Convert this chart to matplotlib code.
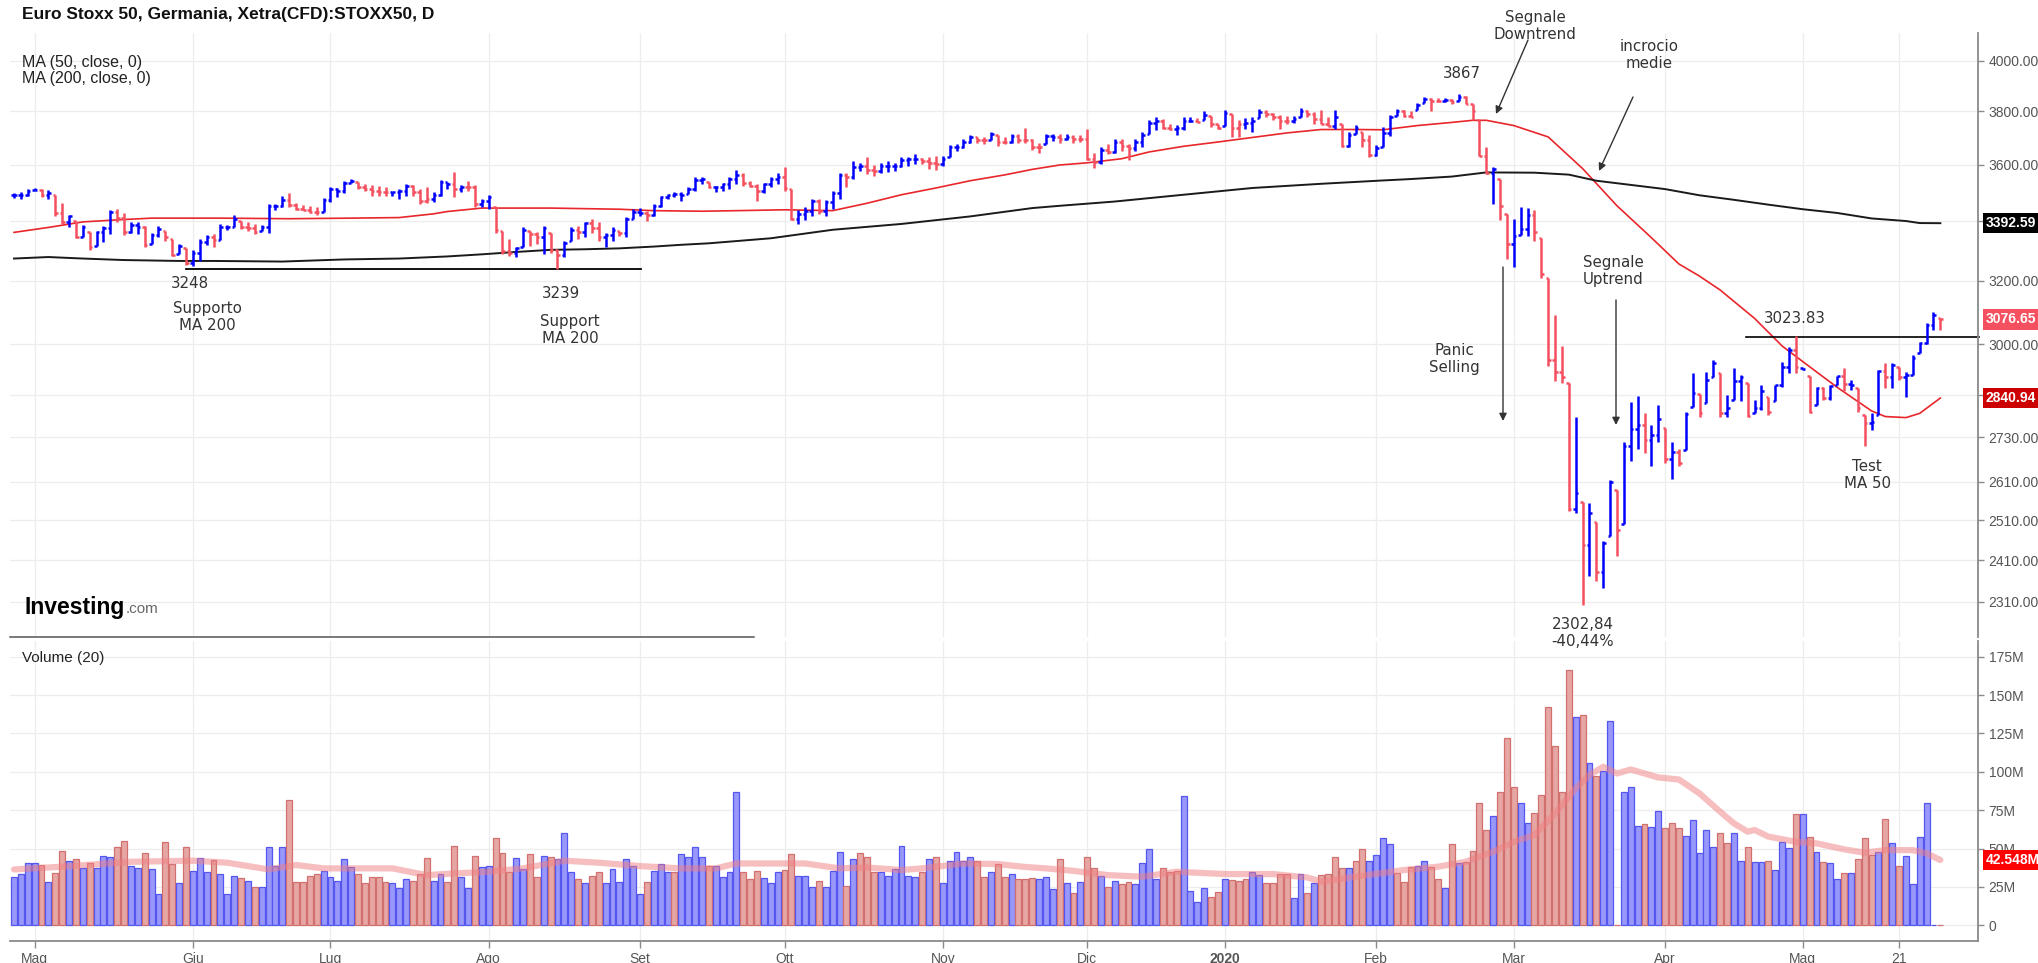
import numpy as np
import matplotlib
matplotlib.use("Agg")
import matplotlib.pyplot as plt
from matplotlib.collections import LineCollection
from matplotlib.ticker import FixedLocator, NullLocator

plt.rcParams['font.family'] = ['Liberation Sans', 'DejaVu Sans']

# daily bars, Apr 26 2019 .. late May 2020
highs = [3497, 3500, 3512, 3515, 3512, 3509, 3491, 3464, 3421, 3401,
         3386, 3363, 3366, 3383, 3439, 3441, 3427, 3395, 3398, 3383,
         3360, 3383, 3366, 3337, 3322, 3307, 3302, 3337, 3352, 3355,
         3390, 3386, 3421, 3401, 3398, 3390, 3386, 3460, 3460, 3486,
         3497, 3462, 3456, 3453, 3448, 3480, 3521, 3515, 3542, 3548,
         3539, 3531, 3527, 3524, 3519, 3503, 3512, 3531, 3527, 3512,
         3519, 3500, 3545, 3539, 3575, 3527, 3542, 3527, 3476, 3491,
         3450, 3366, 3337, 3313, 3378, 3366, 3363, 3383, 3360, 3304,
         3333, 3378, 3383, 3398, 3406, 3395, 3360, 3378, 3366, 3415,
         3441, 3445, 3436, 3460, 3488, 3495, 3500, 3500, 3519, 3555,
         3557, 3539, 3524, 3535, 3555, 3581, 3569, 3542, 3531, 3535,
         3555, 3571, 3591, 3512, 3437, 3448, 3476, 3476, 3474, 3507,
         3571, 3571, 3612, 3608, 3628, 3599, 3608, 3612, 3608, 3628,
         3628, 3640, 3624, 3628, 3632, 3632, 3673, 3677, 3694, 3710,
         3703, 3703, 3722, 3710, 3701, 3714, 3714, 3736, 3694, 3682,
         3714, 3714, 3714, 3714, 3710, 3710, 3732, 3642, 3664, 3677,
         3694, 3694, 3677, 3694, 3722, 3768, 3780, 3771, 3753, 3749,
         3780, 3778, 3775, 3801, 3783, 3753, 3804, 3791, 3766, 3775,
         3780, 3810, 3804, 3795, 3787, 3783, 3783, 3813, 3804, 3797,
         3804, 3778, 3804, 3753, 3720, 3749, 3720, 3710, 3673, 3739,
         3787, 3810, 3806, 3800, 3831, 3857, 3852, 3852, 3852, 3847,
         3867, 3862, 3828, 3768, 3667, 3592, 3549, 3425, 3408, 3449,
         3445, 3437, 3343, 3209, 3091, 2994, 2884, 2788, 2557, 2554,
         2505, 2456, 2615, 2587, 2717, 2829, 2848, 2799, 2763, 2822,
         2757, 2717, 2698, 2802, 2914, 2852, 2918, 2953, 2914, 2851,
         2928, 2907, 2885, 2835, 2879, 2845, 2879, 2948, 2993, 3024,
         2928, 2904, 2874, 2874, 2879, 2904, 2928, 2894, 2869, 2793,
         2797, 2923, 2943, 2943, 2933, 2918, 2968, 3008, 3065, 3100,
         3080]
lows = [3480, 3476, 3486, 3509, 3483, 3476, 3418, 3390, 3380, 3341,
        3344, 3302, 3316, 3329, 3355, 3395, 3352, 3360, 3355, 3313,
        3322, 3346, 3333, 3280, 3289, 3252, 3248, 3266, 3318, 3313,
        3335, 3369, 3378, 3371, 3366, 3355, 3366, 3360, 3439, 3450,
        3448, 3439, 3437, 3427, 3421, 3430, 3468, 3483, 3497, 3533,
        3512, 3507, 3486, 3488, 3488, 3486, 3476, 3488, 3488, 3460,
        3464, 3468, 3488, 3512, 3483, 3500, 3507, 3448, 3448, 3441,
        3360, 3289, 3282, 3278, 3311, 3315, 3322, 3289, 3293, 3239,
        3278, 3333, 3337, 3344, 3360, 3333, 3311, 3333, 3349, 3346,
        3406, 3418, 3401, 3418, 3448, 3476, 3483, 3471, 3495, 3507,
        3531, 3515, 3500, 3507, 3512, 3531, 3524, 3519, 3471, 3497,
        3521, 3531, 3507, 3402, 3390, 3402, 3418, 3424, 3418, 3441,
        3476, 3519, 3548, 3578, 3566, 3560, 3569, 3575, 3578, 3591,
        3596, 3603, 3603, 3584, 3581, 3596, 3628, 3652, 3660, 3682,
        3682, 3677, 3692, 3669, 3677, 3680, 3682, 3680, 3654, 3642,
        3677, 3689, 3682, 3692, 3682, 3685, 3618, 3587, 3603, 3640,
        3642, 3652, 3618, 3652, 3664, 3714, 3729, 3734, 3729, 3710,
        3729, 3758, 3758, 3766, 3741, 3732, 3745, 3701, 3703, 3732,
        3720, 3775, 3780, 3766, 3732, 3753, 3755, 3778, 3780, 3753,
        3753, 3743, 3732, 3664, 3664, 3714, 3664, 3628, 3632, 3664,
        3706, 3783, 3778, 3777, 3804, 3831, 3800, 3836, 3836, 3828,
        3841, 3828, 3768, 3632, 3567, 3459, 3405, 3272, 3245, 3353,
        3350, 3333, 3209, 2935, 2891, 2886, 2532, 2529, 2302.84, 2371,
        2360, 2342, 2469, 2421, 2500, 2666, 2699, 2688, 2651, 2718,
        2660, 2617, 2651, 2696, 2815, 2788, 2826, 2903, 2788, 2788,
        2835, 2831, 2788, 2797, 2807, 2793, 2831, 2874, 2914, 2914,
        2923, 2797, 2822, 2835, 2835, 2880, 2860, 2864, 2802, 2705,
        2750, 2793, 2869, 2869, 2894, 2845, 2907, 2973, 3000, 3044,
        3044]
closes = [3492, 3490, 3507, 3510, 3492, 3497, 3429, 3398, 3416, 3347,
          3381, 3313, 3361, 3375, 3433, 3410, 3361, 3387, 3380, 3319,
          3353, 3374, 3345, 3285, 3315, 3257, 3292, 3330, 3345, 3336,
          3381, 3381, 3408, 3381, 3376, 3363, 3380, 3451, 3454, 3474,
          3457, 3443, 3440, 3433, 3430, 3472, 3512, 3505, 3533, 3542,
          3520, 3512, 3507, 3500, 3500, 3500, 3505, 3522, 3502, 3471,
          3478, 3492, 3536, 3530, 3512, 3520, 3520, 3460, 3471, 3485,
          3368, 3297, 3290, 3307, 3370, 3357, 3345, 3375, 3302, 3285,
          3324, 3370, 3363, 3393, 3376, 3345, 3353, 3370, 3360, 3408,
          3433, 3428, 3420, 3454, 3485, 3490, 3495, 3492, 3512, 3545,
          3549, 3519, 3520, 3530, 3547, 3562, 3533, 3522, 3507, 3530,
          3547, 3557, 3517, 3406, 3426, 3436, 3471, 3436, 3467, 3497,
          3563, 3555, 3590, 3594, 3582, 3577, 3594, 3594, 3594, 3618,
          3620, 3620, 3612, 3607, 3602, 3622, 3664, 3664, 3685, 3701,
          3691, 3691, 3714, 3685, 3685, 3706, 3691, 3691, 3664, 3664,
          3706, 3703, 3697, 3703, 3694, 3694, 3622, 3610, 3653, 3647,
          3685, 3669, 3660, 3685, 3711, 3755, 3764, 3738, 3733, 3735,
          3764, 3764, 3759, 3787, 3751, 3736, 3793, 3738, 3751, 3757,
          3764, 3799, 3790, 3777, 3764, 3764, 3770, 3803, 3790, 3770,
          3753, 3743, 3777, 3668, 3711, 3738, 3691, 3636, 3660, 3718,
          3779, 3803, 3783, 3780, 3824, 3849, 3840, 3840, 3843, 3835,
          3857, 3830, 3800, 3633, 3571, 3586, 3452, 3322, 3350, 3372,
          3422, 3364, 3223, 2953, 2916, 2903, 2538, 2581, 2447, 2527,
          2380, 2452, 2609, 2484, 2706, 2752, 2764, 2723, 2735, 2782,
          2671, 2689, 2660, 2794, 2854, 2797, 2894, 2943, 2797, 2811,
          2891, 2903, 2790, 2811, 2862, 2800, 2879, 2933, 2983, 2933,
          2927, 2800, 2870, 2840, 2875, 2904, 2882, 2878, 2811, 2769,
          2773, 2919, 2903, 2939, 2903, 2908, 2959, 3003, 3060, 3091,
          3076.65]
# B = blue (up) bar, R = red (down) bar
price_dir = ("BBBBRBRRBR" "BRBBBRRBBR" "BBRRBRBBBR" "BBBRRRBBBB" "RRRRRBBBBB"
             "RRRRRBBBRR" "RBBBRBRRBB" "RRRBBRRBRR" "BBRBRRBBRB" "BBRBBBBBBB"
             "BRBBBBRRRB" "BBRRBBBRBB" "BRBBRRBBBB" "BBRRRBBBBB" "RRBRRBRRRR"
             "BBRBRRRRBR" "BRRBBBBRRB" "BBRBRRBRRB" "BBRRRRBBRR" "RRBRBBRRBB"
             "BBRRBBRRBR" "BRRRRBRRBB" "BRRRRRRBRB" "RBBRBBBRBB" "RBRBBRBBRB"
             "BBRBBRBBBR" "BRBRBBRBRR" "BBRBRBBBBB" "R")

# volume in millions
volumes = [31.7, 33.4, 40.3, 40.3, 39.3, 28.4, 33.8, 48.6, 42.1, 42.9,
           37.1, 40.3, 37.1, 45.3, 44.2, 50.8, 55.1, 38.6, 37.1, 46.9,
           36.4, 20.2, 54.0, 39.7, 27.3, 50.8, 35.5, 43.6, 34.5, 42.5,
           33.2, 20.2, 32.3, 30.6, 29.1, 24.7, 24.7, 50.8, 38.6, 50.8,
           81.6, 28.4, 28.4, 32.1, 33.2, 35.5, 31.2, 29.1, 42.9, 37.7,
           33.2, 27.3, 31.2, 31.7, 28.0, 27.3, 24.5, 29.9, 29.1, 33.2,
           43.6, 29.1, 33.2, 28.0, 51.9, 31.2, 24.5, 45.1, 37.7, 38.6,
           56.6, 46.9, 34.9, 43.6, 36.4, 46.2, 31.2, 45.3, 44.7, 42.9,
           59.9, 34.9, 29.9, 27.3, 32.1, 34.9, 27.3, 36.4, 28.0, 42.9,
           38.8, 20.2, 28.0, 35.5, 39.7, 34.9, 34.9, 46.2, 44.2, 50.8,
           44.2, 38.6, 38.6, 31.2, 34.9, 86.6, 34.9, 29.9, 35.5, 30.6,
           27.3, 34.9, 36.0, 46.2, 32.3, 32.3, 24.7, 29.1, 24.7, 35.5,
           47.5, 25.8, 42.9, 46.9, 44.2, 34.9, 34.9, 32.3, 36.4, 51.6,
           32.3, 31.2, 34.9, 42.9, 44.2, 27.3, 42.1, 47.5, 42.1, 44.2,
           41.9, 31.2, 34.9, 39.7, 31.2, 33.2, 29.9, 29.9, 30.6, 29.9,
           31.2, 23.6, 42.9, 27.3, 20.8, 28.0, 44.7, 37.1, 32.3, 25.2,
           29.1, 26.9, 28.0, 26.7, 40.3, 49.5, 29.9, 37.1, 34.9, 35.5,
           84.2, 22.5, 15.4, 24.1, 18.7, 21.5, 29.9, 29.5, 28.8, 29.9,
           34.9, 32.8, 27.3, 27.3, 33.2, 33.2, 18.0, 33.2, 20.8, 27.3,
           32.7, 33.2, 44.2, 37.1, 37.1, 42.1, 49.5, 42.1, 45.7, 56.6,
           52.7, 34.3, 28.0, 38.2, 38.6, 42.1, 38.2, 29.9, 24.1, 52.7,
           40.3, 41.2, 48.6, 79.4, 62.1, 71.2, 86.6, 122.2, 89.8, 79.4,
           66.4, 72.9, 84.8, 142.3, 116.9, 86.9, 166.6, 135.8, 136.7, 105.5,
           97.2, 100.7, 132.9, 0.0, 86.9, 89.8, 64.6, 65.7, 63.8, 74.4,
           63.1, 66.4, 63.1, 58.1, 68.6, 46.9, 61.9, 50.8, 60.1, 53.6,
           60.3, 42.1, 50.8, 41.2, 41.2, 42.1, 36.0, 54.2, 50.1, 72.2,
           72.2, 57.3, 48.0, 41.2, 40.3, 29.9, 33.8, 33.8, 42.9, 56.6,
           45.9, 48.0, 69.0, 53.4, 38.6, 45.0, 26.7, 57.3, 79.4, 0.5,
           0.0]
volume_dir = ("BBBBRBRRBR" "BRBBBRRBBR" "BBRRBRBBBR" "BBBRBRBBBB" "RRRRRBBBBB"
              "RRRRRBBBRR" "RBBRRBBRBB" "RRRBBRRBRB" "BBRBRRBBBB" "BBRBBBRBBB"
              "BRBBBBRRRB" "BBRRBBBRBB" "BRBRRRBBBB" "BBRBRBBBBB" "RRBRRBRRRB"
              "BBRBRBRRBR" "BRRBBBBRRR" "BBBBRRBRRR" "BBRRRRBBRB" "RRRRBRRBBB"
              "BRRRBBRRBR" "BRRRRBRRRB" "BRRRRRRBRB" "RBBRBBBRBB" "RRRBBBBBRR"
              "BBRBBRBBBR" "BRBRBBRBRR" "RBRBRBBBBB" "R")

# moving averages (bar index, value)
ma50_x = [0, 5, 10, 15, 20, 30, 40, 49, 56, 61, 63, 68, 78, 88, 93, 100, 105,
          112, 119, 124, 129, 134, 139, 144, 148, 152, 156, 161, 165, 170, 175,
          180, 185, 190, 195, 199, 204, 209, 212, 214, 218, 223, 228, 233, 238,
          242, 245, 248, 253, 257, 260, 265, 270, 272, 275, 277, 280]
ma50_y = [3361, 3378, 3397, 3404, 3410, 3410, 3408, 3410, 3412, 3425, 3433,
          3445, 3445, 3441, 3436, 3434, 3436, 3439, 3436, 3462, 3492, 3516,
          3542, 3563, 3583, 3599, 3607, 3622, 3647, 3668, 3684, 3701, 3718,
          3731, 3731, 3730, 3746, 3758, 3766, 3766, 3746, 3703, 3586, 3453,
          3343, 3255, 3215, 3170, 3080, 2995, 2948, 2872, 2804, 2788, 2785,
          2797, 2840.94]
ma200_x = [0, 5, 10, 16, 24, 29, 39, 48, 56, 63, 68, 73, 78, 83, 88, 93, 97,
           101, 110, 119, 129, 139, 148, 152, 160, 170, 180, 190, 199, 203, 209,
           214, 221, 226, 230, 235, 240, 245, 250, 255, 260, 265, 270, 275, 277,
           280]
ma200_y = [3273, 3278, 3273, 3268, 3265, 3265, 3263, 3270, 3273, 3280, 3287,
           3295, 3302, 3304, 3307, 3313, 3319, 3324, 3341, 3370, 3390, 3416,
           3445, 3453, 3468, 3492, 3516, 3531, 3543, 3548, 3557, 3572, 3571,
           3564, 3542, 3527, 3512, 3490, 3474, 3457, 3441, 3428, 3409, 3400,
           3393, 3392.59]
vol_ma_x = [0, 7, 17, 26, 31, 37, 41, 45, 55, 60, 64, 69, 74, 80, 85, 91, 97,
            102, 105, 112, 115, 120, 124, 129, 132, 138, 143, 147, 150, 154,
            159, 164, 169, 176, 183, 188, 190, 195, 202, 207, 211, 215, 218,
            221, 224, 227, 229, 231, 233, 235, 239, 242, 245, 248, 250, 252,
            253, 255, 259, 262, 266, 269, 272, 276, 278, 280]
vol_ma_y = [36.4, 38.2, 41.4, 42.1, 40.8, 36.4, 39.3, 37.1, 37.1, 32.7, 33.8,
            34.9, 37.1, 42.1, 40.8, 38.6, 37.1, 37.1, 40.3, 40.3, 40.3, 37.1,
            37.7, 36.0, 37.1, 40.3, 39.9, 38.0, 37.1, 35.5, 32.7, 31.7, 34.9,
            33.4, 33.4, 31.2, 28.4, 31.7, 36.0, 38.2, 41.4, 47.9, 54.4, 58.8,
            72.9, 89.2, 97.9, 103.3, 98.9, 101.5, 96.3, 95.0, 85.9, 74.0, 66.4,
            61.0, 62.1, 57.8, 54.4, 53.4, 49.5, 47.3, 49.0, 49.0, 46.9, 42.548]

month_pos = [3, 26, 46, 69, 91, 112, 135, 156, 176, 198, 218, 240, 260, 274]
month_labels = ["Mag", "Giu", "Lug", "Ago", "Set", "Ott", "Nov", "Dic", "2020",
                "Feb", "Mar", "Apr", "Mag", "21"]
price_ticks = [2310, 2410, 2510, 2610, 2730, 2850, 3000, 3200, 3400, 3600, 3800, 4000]
vol_ticks = [0, 25, 50, 75, 100, 125, 150, 175]

BLUE = "#0000ff"
RED = "#f5505f"
GRID = "#ededed"
AXC = "#8a8a8a"
LBL = "#555555"

W, H = 2038, 963
fig = plt.figure(figsize=(W / 100, H / 100), dpi=100)

def fx(px):
    return px / W

def fy(py):
    return 1 - py / H

ax = fig.add_axes([fx(10), fy(637), fx(1977.5) - fx(10), fy(33) - fy(637)])
axv = fig.add_axes([fx(10), fy(941), fx(1977.5) - fx(10), fy(641) - fy(941)], sharex=ax)

n = len(closes)
c = np.array(closes, float)
hi = np.array(highs, float)
lo = np.array(lows, float)
op = np.clip(np.r_[c[0], c[:-1]], lo, hi)

segs, cols = [], []
for i in range(n):
    col = BLUE if price_dir[i] == "B" else RED
    segs.append([(i, lo[i]), (i, hi[i])])
    segs.append([(i - 0.38, op[i]), (i, op[i])])
    segs.append([(i, c[i]), (i + 0.38, c[i])])
    cols += [col] * 3
ax.add_collection(LineCollection(segs, colors=cols, linewidths=1.8, capstyle="butt", zorder=3))

ax.plot(ma50_x, ma50_y, color="#e8262b", lw=1.2, zorder=2)
ax.plot(ma200_x, ma200_y, color="#1a1a1a", lw=1.4, zorder=2)

# support / resistance lines
ax.plot([25, 91.2], [3239, 3239], color="black", lw=1.3, zorder=2)
ax.plot([251.7, 285.6], [3023.83, 3023.83], color="black", lw=1.2, zorder=2, clip_on=False)

ax.set_yscale("log")
ax.set_ylim(2229, 4115)
ax.set_xlim(-0.58, 285.4)
ax.yaxis.set_major_locator(FixedLocator(price_ticks))
ax.yaxis.set_minor_locator(NullLocator())
ax.set_yticklabels(["" if t in (2850, 3400) else "%.2f" % t for t in price_ticks])
ax.yaxis.tick_right()
ax.tick_params(axis="y", length=4, width=1, color=AXC, labelsize=10, labelcolor=LBL, pad=4)
ax.tick_params(axis="x", length=0, labelbottom=False)
ax.set_xticks(month_pos)
ax.grid(True, color=GRID, lw=0.9, zorder=0)
for s in ["top", "left", "bottom"]:
    ax.spines[s].set_visible(False)
ax.spines["right"].set_color(AXC)
ax.spines["right"].set_linewidth(1.3)

# volume panel
v = np.array(volumes)
vfill = ["#9898fb" if d == "B" else "#e6a6a3" for d in volume_dir]
vedge = ["#5555f0" if d == "B" else "#d27070" for d in volume_dir]
axv.bar(np.arange(n), v, width=0.86, color=vfill, edgecolor=vedge, linewidth=0.9, zorder=2)
axv.plot(vol_ma_x, vol_ma_y, color="#f07f82", lw=4.5, alpha=0.5, solid_capstyle="round", zorder=3)
axv.set_ylim(-10.2, 185.2)
axv.set_yticks(vol_ticks)
axv.set_yticklabels(["0"] + ["%dM" % t for t in vol_ticks[1:]])
axv.yaxis.tick_right()
axv.tick_params(axis="y", length=4, width=1, color=AXC, labelsize=10, labelcolor=LBL, pad=4)
axv.set_xticks(month_pos)
axv.set_xticklabels(month_labels)
axv.tick_params(axis="x", length=5, width=1, color=AXC, labelsize=10, labelcolor=LBL, pad=3)
axv.get_xticklabels()[8].set_fontweight("bold")
axv.grid(True, color=GRID, lw=0.9, zorder=0)
for s in ["top", "left"]:
    axv.spines[s].set_visible(False)
for s in ["right", "bottom"]:
    axv.spines[s].set_color(AXC)
    axv.spines[s].set_linewidth(1.3)

def value_box(a, val, text, bg):
    a.annotate(text, xy=(1, val), xycoords=("axes fraction", "data"), xytext=(6, 0),
               textcoords="offset points", ha="left", va="center", color="white",
               fontsize=10, fontweight="bold", annotation_clip=False, zorder=10,
               bbox=dict(boxstyle="square,pad=0.22", fc=bg, ec="none"))

value_box(ax, ma200_y[-1], "3392.59", "#000000")
value_box(ax, closes[-1], "3076.65", "#f5505f")
value_box(ax, ma50_y[-1], "2840.94", "#cc0000")
value_box(axv, vol_ma_y[-1], "42.548M", "#ff0000")

# header texts
fig.text(fx(22), fy(15), "Euro Stoxx 50, Germania, Xetra(CFD):STOXX50, D", fontsize=12.5,
         fontweight="bold", color="#111111", va="center")
fig.text(fx(22), fy(62), "MA (50, close, 0)", fontsize=11.5, color="#222222", va="center")
fig.text(fx(22), fy(79), "MA (200, close, 0)", fontsize=11.5, color="#222222", va="center")
fig.text(fx(22), fy(658), "Volume (20)", fontsize=11, color="#222222", va="center")
logo = fig.text(fx(25), fy(607), "Investing", fontsize=16.5, fontweight="bold", color="black",
                va="center")
fig.canvas.draw()
plt.annotate(".com", xy=(1, 0.12), xycoords=logo, fontsize=11, color="#666666",
             va="bottom", ha="left", annotation_clip=False)
fig.add_artist(plt.Line2D([fx(10), fx(754)], [fy(637), fy(637)], color="#555555", lw=1.1))

# chart annotations
ann = dict(fontsize=10.8, color="#333333", ha="center", va="center", family="DejaVu Sans",
           linespacing=1.15)
fig.text(fx(190), fy(284), "3248", **ann)
fig.text(fx(207), fy(317), "Supporto\nMA 200", **ann)
fig.text(fx(561), fy(293), "3239", **ann)
fig.text(fx(570), fy(330), "Support\nMA 200", **ann)
fig.text(fx(1462), fy(74), "3867", **ann)
fig.text(fx(1535), fy(26), "Segnale\nDowntrend", **ann)
fig.text(fx(1649), fy(55), "incrocio\nmedie", **ann)
fig.text(fx(1454), fy(359), "Panic\nSelling", **ann)
fig.text(fx(1613), fy(271), "Segnale\nUptrend", **ann)
fig.text(fx(1583), fy(633), "2302,84\n-40,44%", **ann)
fig.text(fx(1795), fy(318), "3023.83", **ann)
fig.text(fx(1867), fy(475), "Test\nMA 50", **ann)

arrow = dict(arrowstyle="-|>", color="#333333", lw=1.0, mutation_scale=11, shrinkA=0, shrinkB=0)
for (x0, y0, x1, y1) in [(1528, 40, 1496, 114), (1633, 97, 1599, 171),
                         (1503, 267, 1503, 421), (1616, 300, 1616, 425)]:
    fig.add_artist(matplotlib.patches.FancyArrowPatch((fx(x0), fy(y0)), (fx(x1), fy(y1)),
                                                      transform=fig.transFigure, **arrow))

fig.savefig("out.png", dpi=100, facecolor="white")
